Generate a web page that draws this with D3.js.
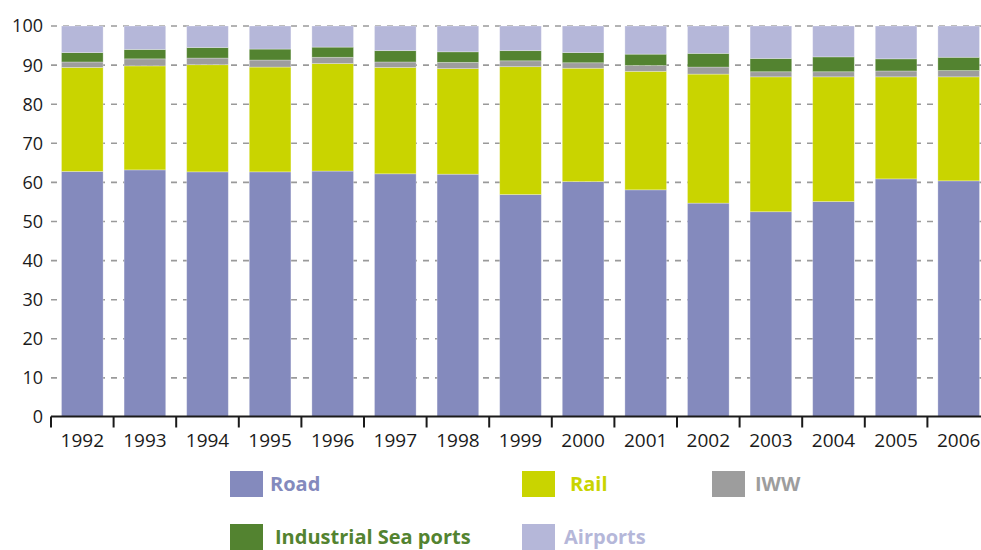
<!DOCTYPE html>
<html>
<head>
<meta charset="utf-8">
<script src="https://cdn.jsdelivr.net/npm/d3@7"></script>
<style>
  html, body { margin: 0; padding: 0; background: #fff; }
  svg { display: block; }
  text { font-family: "Open Sans", "Noto Sans", sans-serif; }
</style>
</head>
<body>
<svg id="chart" width="981" height="550"></svg>
<script>
// Modal split of freight (percent of total), by year
const years = ["1992","1993","1994","1995","1996","1997","1998","1999","2000","2001","2002","2003","2004","2005","2006"];
const road     = [62.8, 63.2, 62.7, 62.7, 62.9, 62.2, 62.1, 56.9, 60.2, 58.1, 54.7, 52.5, 55.1, 60.9, 60.4];
const rail     = [26.6, 26.6, 27.4, 26.8, 27.5, 27.2, 27.0, 32.7, 29.0, 30.3, 33.0, 34.5, 31.9, 26.1, 26.6];
const iww      = [1.4, 1.8, 1.7, 1.8, 1.6, 1.4, 1.6, 1.5, 1.4, 1.5, 1.8, 1.3, 1.3, 1.5, 1.6];
const seaports = [2.4, 2.4, 2.7, 2.8, 2.6, 2.9, 2.7, 2.6, 2.6, 2.9, 3.5, 3.4, 3.8, 3.1, 3.4];
const airports = [6.8, 6.0, 5.5, 5.9, 5.4, 6.3, 6.6, 6.3, 6.8, 7.2, 7.0, 8.3, 7.9, 8.4, 8.0];
const yTicks = [0, 10, 20, 30, 40, 50, 60, 70, 80, 90, 100];

const seriesKeys = ["Road", "Rail", "IWW", "Industrial Sea ports", "Airports"];
const seriesValues = [road, rail, iww, seaports, airports];
const colors = ["#848abd", "#c9d400", "#9d9d9d", "#538330", "#b5b7d9"];

const rows = years.map((y, i) => {
  const r = { year: y };
  seriesKeys.forEach((k, j) => { r[k] = seriesValues[j][i]; });
  return r;
});

const svg = d3.select("#chart");
const margin = { left: 51, top: 26, bottom: 417 };
const plotRight = 990;

const x = d3.scaleBand().domain(years).range([margin.left, plotRight]).paddingInner(0.335).paddingOuter(0.1675);
const y = d3.scaleLinear().domain([0, 100]).range([margin.bottom, margin.top]);

// dashed horizontal grid
svg.append("g")
  .selectAll("line")
  .data(yTicks.filter(t => t > 0))
  .join("line")
  .attr("x1", margin.left).attr("x2", 981)
  .attr("y1", d => y(d)).attr("y2", d => y(d))
  .attr("stroke", "#9a9a9a").attr("stroke-width", 1.6)
  .attr("stroke-dasharray", "6,6");

// stacked bars
const stacked = d3.stack().keys(seriesKeys)(rows);
svg.append("g")
  .selectAll("g")
  .data(stacked)
  .join("g")
  .attr("fill", (d, i) => colors[i])
  .selectAll("rect")
  .data(d => d)
  .join("rect")
  .attr("x", d => x(d.data.year))
  .attr("width", x.bandwidth())
  .attr("y", d => y(d[1]))
  .attr("height", d => y(d[0]) - y(d[1]))
  .attr("stroke", "rgba(255,255,255,0.35)")
  .attr("stroke-width", 0.8);

// y labels
svg.append("g")
  .selectAll("text")
  .data(yTicks)
  .join("text")
  .attr("x", 43)
  .attr("y", d => y(d))
  .attr("dy", "0.36em")
  .attr("text-anchor", "end")
  .attr("font-size", 18)
  .attr("fill", "#1a1a1a")
  .text(d => d);

// x axis
const gx = svg.append("g").attr("transform", `translate(0,${margin.bottom - 0.5})`);
gx.append("line")
  .attr("x1", margin.left).attr("x2", plotRight)
  .attr("stroke", "#1a1a1a").attr("stroke-width", 2);
const step = x.step();
const boundaries = d3.range(years.length + 1).map(i => margin.left + i * step);
gx.selectAll("line.tick")
  .data(boundaries)
  .join("line")
  .attr("class", "tick")
  .attr("x1", d => d).attr("x2", d => d)
  .attr("y1", 0).attr("y2", 11)
  .attr("stroke", "#1a1a1a").attr("stroke-width", 2);
gx.selectAll("text")
  .data(years)
  .join("text")
  .attr("x", d => x(d) + x.bandwidth() / 2)
  .attr("y", 30)
  .attr("text-anchor", "middle")
  .attr("font-size", 19)
  .attr("fill", "#1a1a1a")
  .text(d => d);

// legend
const legendItems = [
  { key: "Road", sx: 230, sy: 471, tx: 270 },
  { key: "Rail", sx: 522, sy: 471, tx: 570 },
  { key: "IWW", sx: 712, sy: 471, tx: 755 },
  { key: "Industrial Sea ports", sx: 230, sy: 524, tx: 275 },
  { key: "Airports", sx: 522, sy: 524, tx: 564 }
];
const lg = svg.append("g");
legendItems.forEach(it => {
  const c = colors[seriesKeys.indexOf(it.key)];
  lg.append("rect").attr("x", it.sx).attr("y", it.sy).attr("width", 33).attr("height", 26).attr("fill", c);
  lg.append("text")
    .attr("x", it.tx).attr("y", it.sy + 12.5)
    .attr("dy", "0.36em")
    .attr("font-size", 20).attr("font-weight", "bold")
    .attr("fill", c)
    .text(it.key);
});
</script>
</body>
</html>
